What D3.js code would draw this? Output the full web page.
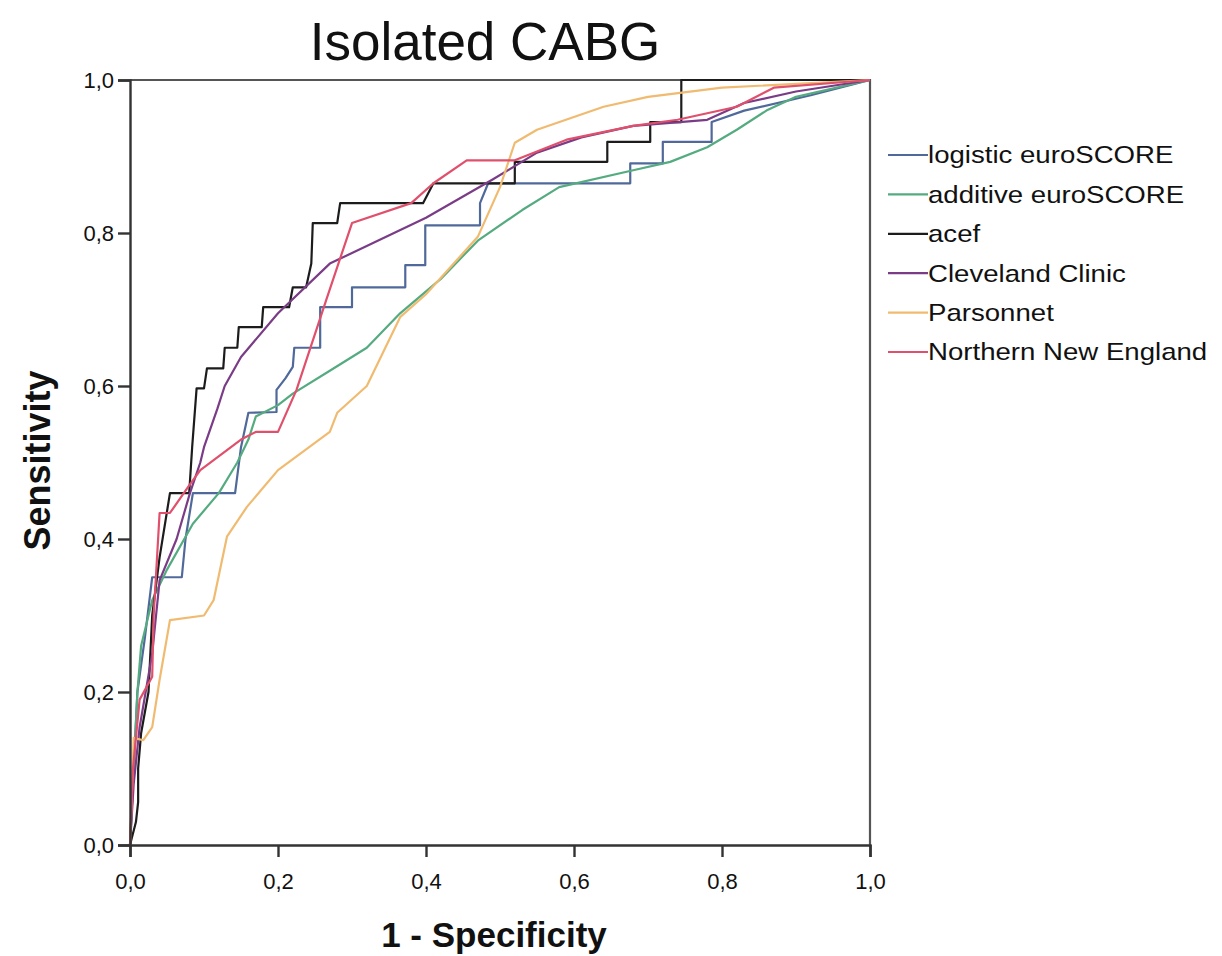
<!DOCTYPE html>
<html>
<head>
<meta charset="utf-8">
<script src="https://cdn.jsdelivr.net/npm/d3@7"></script>
<style>
  body { margin: 0; background: #fff; }
  svg text { font-family: "Liberation Sans", Arial, sans-serif; fill: #111; }
</style>
</head>
<body>
<svg id="chart" width="1222" height="956"></svg>
<script>
const title = 'Isolated CABG';
const xLabel = '1 - Specificity';
const yLabel = 'Sensitivity';
const tickValues = [0, 0.2, 0.4, 0.6, 0.8, 1.0];

const seriesNames = ['logistic euroSCORE', 'additive euroSCORE', 'acef', 'Cleveland Clinic', 'Parsonnet', 'Northern New England'];
const seriesColors = ['#50699a', '#55ab80', '#1c1c1c', '#7a3c86', '#f0bb70', '#e0506c'];

// [1 - specificity, sensitivity]
const logistic = [[0,0],[0.005,0.1],[0.01,0.2],[0.02,0.27],[0.03,0.35],[0.07,0.35],[0.075,0.4],[0.085,0.46],[0.142,0.46],[0.15,0.52],[0.16,0.565],[0.198,0.566],[0.198,0.595],[0.21,0.61],[0.22,0.625],[0.222,0.65],[0.257,0.65],[0.257,0.703],[0.3,0.703],[0.3,0.729],[0.372,0.729],[0.372,0.758],[0.399,0.758],[0.399,0.81],[0.473,0.81],[0.473,0.839],[0.484,0.865],[0.676,0.865],[0.676,0.891],[0.72,0.891],[0.72,0.919],[0.786,0.919],[0.786,0.945],[0.83,0.96],[0.92,0.98],[1,1]];
const additive = [[0,0],[0.005,0.1],[0.01,0.2],[0.015,0.26],[0.03,0.32],[0.05,0.36],[0.085,0.42],[0.12,0.46],[0.145,0.5],[0.16,0.53],[0.17,0.56],[0.2,0.575],[0.22,0.59],[0.27,0.62],[0.32,0.65],[0.365,0.695],[0.42,0.74],[0.47,0.79],[0.53,0.83],[0.58,0.86],[0.68,0.882],[0.73,0.893],[0.78,0.912],[0.82,0.935],[0.86,0.96],[0.9,0.978],[1,1]];
const acef = [[0,0],[0.008,0.03],[0.011,0.056],[0.011,0.1],[0.015,0.146],[0.025,0.2],[0.03,0.3],[0.04,0.376],[0.054,0.46],[0.08,0.46],[0.084,0.52],[0.09,0.597],[0.1,0.597],[0.104,0.623],[0.126,0.623],[0.128,0.65],[0.145,0.65],[0.147,0.677],[0.178,0.677],[0.18,0.703],[0.215,0.703],[0.22,0.729],[0.238,0.729],[0.245,0.76],[0.247,0.813],[0.28,0.813],[0.284,0.839],[0.396,0.839],[0.41,0.865],[0.52,0.865],[0.52,0.893],[0.645,0.893],[0.645,0.919],[0.703,0.919],[0.703,0.945],[0.745,0.945],[0.745,1],[1,1]];
const cleveland = [[0,0],[0.005,0.08],[0.013,0.154],[0.03,0.25],[0.04,0.346],[0.063,0.4],[0.081,0.46],[0.095,0.5],[0.1,0.52],[0.118,0.57],[0.128,0.6],[0.15,0.638],[0.2,0.695],[0.27,0.76],[0.4,0.82],[0.49,0.87],[0.55,0.905],[0.61,0.925],[0.68,0.94],[0.78,0.948],[0.83,0.97],[0.9,0.985],[1,1]];
const parsonnet = [[0,0],[0.003,0.08],[0.005,0.14],[0.018,0.137],[0.03,0.154],[0.04,0.216],[0.054,0.294],[0.1,0.3],[0.113,0.32],[0.131,0.403],[0.158,0.442],[0.2,0.49],[0.27,0.54],[0.28,0.565],[0.32,0.6],[0.365,0.69],[0.4,0.72],[0.47,0.795],[0.5,0.86],[0.52,0.918],[0.55,0.935],[0.64,0.965],[0.7,0.978],[0.8,0.99],[1,1]];
const nne = [[0,0],[0.004,0.1],[0.013,0.19],[0.03,0.22],[0.032,0.3],[0.04,0.434],[0.054,0.434],[0.08,0.47],[0.095,0.49],[0.15,0.53],[0.17,0.54],[0.2,0.54],[0.225,0.595],[0.265,0.712],[0.3,0.813],[0.38,0.839],[0.41,0.865],[0.455,0.895],[0.52,0.895],[0.59,0.922],[0.68,0.94],[0.74,0.948],[0.82,0.965],[0.87,0.99],[1,1]];

const seriesValues = [logistic, additive, acef, cleveland, parsonnet, nne];

const margin = { top: 80, left: 130 };
const width = 740, height = 765;

const svg = d3.select('#chart');

const x = d3.scaleLinear().domain([0, 1]).range([0, width]);
const y = d3.scaleLinear().domain([0, 1]).range([height, 0]);
const fmt = d => d3.format('.1f')(d).replace('.', ',');

const g = svg.append('g').attr('transform', `translate(${margin.left},${margin.top})`);

// frame top and right
g.append('path')
  .attr('d', `M0,0H${width}V${height}`)
  .attr('fill', 'none')
  .attr('stroke', '#555')
  .attr('stroke-width', 2.2);

const line = d3.line().x(d => x(d[0])).y(d => y(d[1]));

g.selectAll('.roc')
  .data(seriesValues)
  .enter()
  .append('path')
  .attr('class', 'roc')
  .attr('d', line)
  .attr('fill', 'none')
  .attr('stroke', (d, i) => seriesColors[i])
  .attr('stroke-width', 2.2)
  .attr('stroke-linejoin', 'round');

const xAxis = g.append('g')
  .attr('transform', `translate(0,${height})`)
  .call(d3.axisBottom(x).tickValues(tickValues).tickFormat(fmt).tickSizeOuter(0).tickSize(12).tickPadding(16));
const yAxis = g.append('g')
  .call(d3.axisLeft(y).tickValues(tickValues).tickFormat(fmt).tickSizeOuter(0).tickSize(12).tickPadding(4));

[xAxis, yAxis].forEach(a => {
  a.select('.domain').attr('stroke', '#333').attr('stroke-width', 2.4);
  a.selectAll('.tick line').attr('stroke', '#333').attr('stroke-width', 2.4);
  a.selectAll('.tick text').style('font-size', '22px').style('font-family', '"Liberation Sans", Arial, sans-serif').attr('fill', '#111');
});

svg.append('text')
  .attr('x', 485).attr('y', 60)
  .attr('text-anchor', 'middle')
  .style('font-size', '53px')
  .text(title);

svg.append('text')
  .attr('x', margin.left + width / 2 - 6).attr('y', 947)
  .attr('text-anchor', 'middle')
  .style('font-size', '35px').style('font-weight', 'bold')
  .text(xLabel);

svg.append('text')
  .attr('transform', `translate(50,${margin.top + height / 2 - 2}) rotate(-90)`)
  .attr('text-anchor', 'middle')
  .style('font-size', '36px').style('font-weight', 'bold')
  .text(yLabel);

const legend = svg.append('g').attr('transform', 'translate(888,155)');
const rows = legend.selectAll('g')
  .data(seriesNames)
  .enter()
  .append('g')
  .attr('transform', (d, i) => `translate(0,${i * 39.4})`);
rows.append('line')
  .attr('x1', 0).attr('x2', 40)
  .attr('stroke', (d, i) => seriesColors[i])
  .attr('stroke-width', 2.2);
rows.append('text')
  .attr('transform', 'translate(40,0) scale(1.15,1)')
  .attr('dy', '0.35em')
  .style('font-size', '24px')
  .text(d => d);
</script>
</body>
</html>
